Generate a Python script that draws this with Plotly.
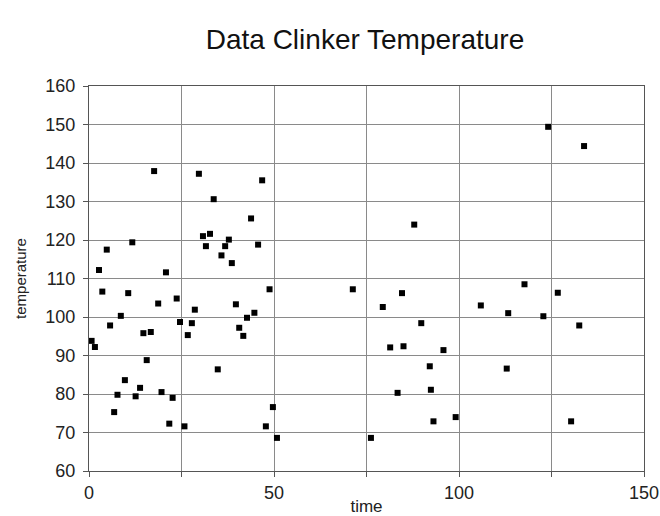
import plotly.graph_objects as go

time = [17.6, 29.7, 46.8, 33.7, 43.8, 11.7, 4.8, 30.8, 32.7, 37.8, 31.6, 36.8, 45.7, 35.8,
        38.6, 2.7, 20.8, 3.6, 10.6, 23.7, 48.8, 18.7, 28.6, 39.7, 44.7, 42.7, 8.6, 5.7,
        24.6, 27.8, 40.6, 41.7, 14.7, 16.7, 26.7, 0.7, 1.6, 15.6, 34.8, 9.7, 13.8, 7.7,
        12.6, 19.6, 22.6, 6.8, 21.7, 25.8, 49.7, 47.8, 50.8,
        71.3, 84.6, 79.4, 89.8, 81.4, 85.0, 95.8, 92.1, 92.4, 83.4, 93.1, 99.1, 76.2, 87.9,
        124.1, 133.8, 117.7, 126.7, 105.9, 113.3, 122.8, 132.5, 112.9, 130.3]
temperature = [137.9, 137.2, 135.5, 130.6, 125.6, 119.4, 117.5, 121.0, 121.6, 120.1, 118.4, 118.4,
               118.8, 116.0, 114.0, 112.2, 111.6, 106.6, 106.2, 104.8, 107.2, 103.5, 101.9, 103.3,
               101.1, 99.8, 100.3, 97.8, 98.7, 98.4, 97.2, 95.1, 95.8, 96.1, 95.3, 93.8, 92.2,
               88.8, 86.4, 83.6, 81.6, 79.8, 79.4, 80.5, 79.0, 75.3, 72.3, 71.6, 76.6, 71.6, 68.6,
               107.2, 106.2, 102.6, 98.4, 92.1, 92.4, 91.4, 87.2, 81.1, 80.3, 72.9, 74.0, 68.6, 124.0,
               149.4, 144.4, 108.5, 106.3, 103.0, 101.0, 100.2, 97.8, 86.6, 72.9]

x_tickvals = [0, 25, 50, 75, 100, 125, 150]
x_ticktext = ["0", "", "50", "", "100", "", "150"]
y_tickvals = [60, 70, 80, 90, 100, 110, 120, 130, 140, 150, 160]

fig = go.Figure(go.Scatter(
    x=time, y=temperature, mode="markers",
    marker=dict(symbol="square", size=6, color="black"),
    showlegend=False, cliponaxis=False,
))

fig.update_layout(
    width=660, height=516,
    margin=dict(l=89, r=16, t=86, b=45, autoexpand=False),
    paper_bgcolor="white", plot_bgcolor="white",
    font=dict(family="Liberation Sans, Arial, sans-serif", color="#222"),
    title=dict(text="Data Clinker Temperature", x=0.553, xanchor="center",
               y=0.925, yanchor="middle", automargin=False,
               font=dict(size=28, color="#111")),
)
fig.update_xaxes(
    range=[0, 150], tickmode="array", tickvals=x_tickvals, ticktext=x_ticktext,
    showgrid=True, gridcolor="#8a8a8a", gridwidth=1,
    showline=True, linecolor="#555", linewidth=1, mirror=True,
    ticks="outside", ticklen=5, tickcolor="#555",
    tickfont=dict(size=18, color="#222"), automargin=False,
    title=dict(text="time", font=dict(size=17, color="#222"), standoff=2),
    zeroline=False,
)
fig.update_yaxes(
    range=[60, 160], tickmode="array", tickvals=y_tickvals,
    showgrid=True, gridcolor="#8a8a8a", gridwidth=1,
    showline=True, linecolor="#555", linewidth=1, mirror=True,
    ticks="outside", ticklen=5, tickcolor="#555", ticklabelstandoff=4,
    tickfont=dict(size=18, color="#222"), automargin=False,
    title=dict(text="temperature", font=dict(size=15, color="#222"), standoff=15),
    zeroline=False,
)

fig.write_html(
    "out.html",
    config={"displayModeBar": False},
    post_script="document.body.style.margin='0';document.body.style.overflow='hidden';",
)
